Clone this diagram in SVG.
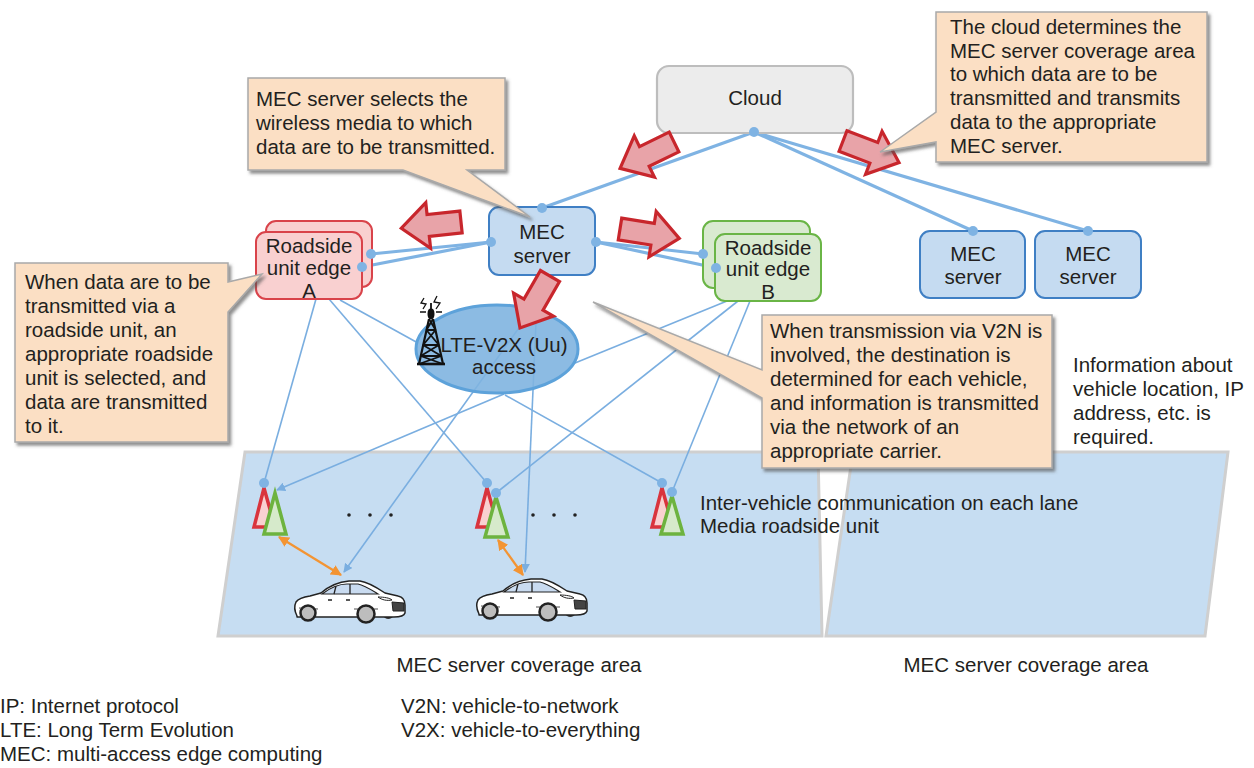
<svg xmlns="http://www.w3.org/2000/svg" width="1254" height="768" viewBox="0 0 1254 768">
  <style>
    text { font-family: 'Liberation Sans', Arial, sans-serif; font-size: 20.5px; fill: #231f20; }
    .mid { text-anchor: middle; }
    .area { fill: #c6ddf2; stroke: #cfcfcf; stroke-width: 3; }
    .thick { stroke: #7fb3e3; stroke-width: 3.2; fill: none; }
    .thin { stroke: #7aaee0; stroke-width: 1.6; fill: none; }
    .dot { fill: #7fb3e3; }
    .mec { fill: #c5dbf1; stroke: #3f7fc4; stroke-width: 2; }
    .rsuA { fill: #f9d0d0; stroke: #d9434a; stroke-width: 2; }
    .rsuB { fill: #d9ead0; stroke: #6ab546; stroke-width: 2; }
    .bigarrow { fill: #e8a3a8; stroke: #c8262c; stroke-width: 3.2; stroke-linejoin: miter; }
    .callout { fill: #fbdfc4; stroke: #a9a9a9; stroke-width: 1.5; filter: url(#shadow); }
    .triR { fill: #f9d1d1; stroke: #d9343d; stroke-width: 3.5; stroke-linejoin: miter; }
    .triG { fill: #d6eacb; stroke: #6db33f; stroke-width: 3.5; stroke-linejoin: miter; }
    .orange { stroke: #f39433; stroke-width: 2.2; fill: none; }
    .tower { stroke: #111; stroke-width: 1.8; fill: none; }
  </style>
  <defs>
    <filter id="shadow" x="-10%" y="-10%" width="130%" height="130%">
      <feDropShadow dx="2.5" dy="3" stdDeviation="1.8" flood-color="#555" flood-opacity="0.65"/>
    </filter>
    <marker id="blueHead" viewBox="0 0 10 10" refX="9" refY="5" markerWidth="9" markerHeight="9" markerUnits="userSpaceOnUse" orient="auto">
      <path d="M0,0 L10,5 L0,10 Z" fill="#7aaee0"/>
    </marker>
    <marker id="orangeHead" viewBox="0 0 10 10" refX="9" refY="5" markerWidth="11" markerHeight="11" markerUnits="userSpaceOnUse" orient="auto-start-reverse">
      <path d="M0,0 L10,5 L0,10 Z" fill="#f39433"/>
    </marker>
    <!-- block arrow pointing along +x, tail centred at the origin -->
    <path id="blockArrow" d="M0,-11 L33,-11 L33,-23 L60,0 L33,23 L33,11 L0,11 Z"/>
    <!-- white sedan -->
    <g id="car">
      <path d="M88,35 Q94,43 101,35 Z" fill="#333"/>
      <path d="M3,36 C1,32 0,26 2,22 C4,19 9,17 16,16 L27,13 C35,6 43,2 55,1 L66,1 C74,2 82,7 91,13 L104,16 C109,17 111,20 111,25 L111,33 C110,36 106,37 100,37 L3,37 Z" fill="#fff" stroke="#222" stroke-width="1.5" stroke-linejoin="round"/>
      <path d="M28,14 C36,8 44,4 53,4 L64,4 C70,5 76,9 84,14 Z" fill="#c9dbf0" stroke="#222" stroke-width="1.2"/>
      <path d="M42,6 L40,14 M56,4 L56,14" stroke="#222" stroke-width="1.3"/>
      <path d="M34,20 L38,20 M52,20 L56,20" stroke="#222" stroke-width="1.5"/>
      <path d="M84,17 C90,17 96,18 98,20 C93,21 88,20 84,17 Z" fill="#fff" stroke="#222" stroke-width="1"/>
      <path d="M98,22 L110,23 L110,31 L99,31 Z" fill="#444" stroke="#222" stroke-width="1"/>
      <path d="M5,28 L24,29 M60,29 L84,29" stroke="#222" stroke-width="0.8"/>
      <circle cx="14" cy="33" r="7.5" fill="#bdbdbd" stroke="#222" stroke-width="2.5"/>
      <circle cx="72" cy="34" r="8.5" fill="#bdbdbd" stroke="#222" stroke-width="2.5"/>
    </g>
  </defs>

  <rect width="1254" height="768" fill="#fff"/>

  <!-- coverage areas -->
  <g id="coverage-areas">
    <polygon class="area" points="245,452 818,452 822,636 218,636"/>
    <polygon class="area" points="853,452 1228,452 1205,636 826,636"/>
  </g>

  <!-- connectors -->
  <g id="connectors">
    <!-- cloud to MEC servers -->
    <line class="thick" x1="754" y1="132" x2="542" y2="208"/>
    <line class="thick" x1="754" y1="132" x2="973" y2="231"/>
    <line class="thick" x1="754" y1="132" x2="1088" y2="231"/>
    <!-- MEC server to roadside unit edges -->
    <line class="thick" x1="491" y1="242" x2="371" y2="254"/>
    <line class="thick" x1="491" y1="242" x2="362" y2="267"/>
    <line class="thick" x1="596" y1="242" x2="703" y2="254"/>
    <line class="thick" x1="596" y1="242" x2="716" y2="268"/>
    <!-- roadside unit edge A -->
    <line class="thin" x1="316" y1="299" x2="264" y2="483"/>
    <line class="thin" x1="329" y1="299" x2="487" y2="483"/>
    <line class="thin" x1="340" y1="300" x2="418" y2="343"/>
    <!-- roadside unit edge B -->
    <line class="thin" x1="727" y1="301" x2="575" y2="363"/>
    <line class="thin" x1="738" y1="301" x2="496" y2="493"/>
    <line class="thin" x1="750" y1="301" x2="672" y2="492"/>
    <!-- LTE-V2X access -->
    <line class="thin" x1="504" y1="394" x2="277" y2="490" marker-end="url(#blueHead)"/>
    <line class="thin" x1="521" y1="325" x2="344" y2="572" marker-end="url(#blueHead)"/>
    <line class="thin" x1="536" y1="322" x2="525" y2="572" marker-end="url(#blueHead)"/>
    <line class="thin" x1="505" y1="395" x2="662" y2="483"/>
    <!-- roadside unit to vehicle links -->
    <line class="orange" x1="279" y1="537" x2="341" y2="575" marker-start="url(#orangeHead)" marker-end="url(#orangeHead)"/>
    <line class="orange" x1="498" y1="540" x2="523" y2="575" marker-start="url(#orangeHead)" marker-end="url(#orangeHead)"/>
  </g>

  <!-- LTE-V2X (Uu) access -->
  <g id="lte-access">
    <ellipse cx="497" cy="349" rx="81" ry="44" fill="#7fb4e0" fill-opacity="0.9" stroke="#5da2da" stroke-width="3"/>
    <text class="mid" x="504" y="352">LTE-V2X (Uu)</text>
    <text class="mid" x="504" y="374">access</text>
    <g class="tower">
      <path d="M417,364 H445" stroke-width="2.6"/>
      <path d="M419,364 L429,319 M443,364 L433,319" stroke-width="2.2"/>
      <path d="M426.4,330 H435.6 M423.1,345 H438.9 M420.7,356 H441.3"/>
      <path d="M429,319 L435.6,330 M433,319 L426.4,330 M426.4,330 L438.9,345 M435.6,330 L423.1,345 M423.1,345 L441.3,356 M438.9,345 L420.7,356 M420.7,356 L443,364 M441.3,356 L419,364"/>
      <ellipse cx="431" cy="314" rx="2.6" ry="4.5" fill="#111"/>
      <path d="M431,309 V303"/>
      <path d="M420,312 H426 M436,312 H442" stroke-width="1.5"/>
      <path d="M424,298 L421,303 L426,304 L423,309" stroke-width="1.3"/>
      <path d="M437,296 L434,302 L440,303 L436,309" stroke-width="1.3"/>
    </g>
  </g>

  <!-- cloud -->
  <g id="cloud">
    <rect x="657" y="66" width="196" height="67" rx="12" fill="#ececec" stroke="#bdbdbd" stroke-width="2.2"/>
    <text class="mid" x="755" y="105">Cloud</text>
    <circle class="dot" cx="754" cy="132" r="5"/>
  </g>

  <!-- MEC servers -->
  <g id="mec-server-main">
    <rect class="mec" x="489" y="207" width="106" height="68" rx="10"/>
    <text class="mid" x="542" y="239">MEC</text>
    <text class="mid" x="542" y="263">server</text>
    <circle class="dot" cx="542" cy="208" r="5"/>
    <circle class="dot" cx="491" cy="242" r="5"/>
    <circle class="dot" cx="596" cy="242" r="5"/>
  </g>
  <g id="mec-server-2">
    <rect class="mec" x="920" y="231" width="105" height="67" rx="10"/>
    <text class="mid" x="973" y="261">MEC</text>
    <text class="mid" x="973" y="284">server</text>
    <circle class="dot" cx="973" cy="231" r="5"/>
  </g>
  <g id="mec-server-3">
    <rect class="mec" x="1035" y="231" width="106" height="67" rx="10"/>
    <text class="mid" x="1088" y="261">MEC</text>
    <text class="mid" x="1088" y="284">server</text>
    <circle class="dot" cx="1088" cy="231" r="5"/>
  </g>

  <!-- roadside unit edges -->
  <g id="rsu-edge-a">
    <rect class="rsuA" x="266" y="221" width="106" height="66" rx="10"/>
    <rect class="rsuA" x="256" y="232" width="106" height="67" rx="10"/>
    <text class="mid" x="309" y="253">Roadside</text>
    <text class="mid" x="309" y="275">unit edge</text>
    <text class="mid" x="309" y="298">A</text>
    <circle class="dot" cx="371" cy="254" r="5"/>
    <circle class="dot" cx="362" cy="267" r="5"/>
  </g>
  <g id="rsu-edge-b">
    <rect class="rsuB" x="703" y="221" width="107" height="67" rx="10"/>
    <rect class="rsuB" x="715" y="234" width="106" height="67" rx="10"/>
    <text class="mid" x="768" y="255">Roadside</text>
    <text class="mid" x="768" y="276">unit edge</text>
    <text class="mid" x="768" y="299">B</text>
    <circle class="dot" cx="703" cy="254" r="5"/>
    <circle class="dot" cx="716" cy="268" r="5"/>
  </g>

  <!-- roadside units on the lanes -->
  <g id="rsu-group-1">
    <polygon class="triR" points="264,488 254,527 275,527"/>
    <polygon class="triG" points="275,493 264,534 286,534"/>
    <circle class="dot" cx="264" cy="483" r="5"/>
  </g>
  <g id="rsu-group-2">
    <polygon class="triR" points="487,488 477,527 498,527"/>
    <polygon class="triG" points="496,497 485,537 508,537"/>
    <circle class="dot" cx="487" cy="483" r="5"/>
    <circle class="dot" cx="496" cy="493" r="5"/>
  </g>
  <g id="rsu-group-3">
    <polygon class="triR" points="662,488 652,527 673,527"/>
    <polygon class="triG" points="672,496 661,534 683,534"/>
    <circle class="dot" cx="662" cy="483" r="5"/>
    <circle class="dot" cx="672" cy="492" r="5"/>
  </g>
  <g id="ellipses" fill="#222">
    <circle cx="349" cy="515" r="1.8"/><circle cx="370" cy="515" r="1.8"/><circle cx="391" cy="515" r="1.8"/>
    <circle cx="533" cy="515" r="1.8"/><circle cx="554" cy="515" r="1.8"/><circle cx="575" cy="515" r="1.8"/>
  </g>

  <!-- vehicles -->
  <g id="vehicle-1"><use href="#car" transform="translate(294,580)"/></g>
  <g id="vehicle-2"><use href="#car" transform="translate(476,578)"/></g>

  <!-- data flow arrows -->
  <g id="flow-arrows">
    <use href="#blockArrow" class="bigarrow" transform="translate(674,142) rotate(154)"/>
    <use href="#blockArrow" class="bigarrow" transform="translate(843,141) rotate(21)"/>
    <use href="#blockArrow" class="bigarrow" transform="translate(461,222) rotate(174)"/>
    <use href="#blockArrow" class="bigarrow" transform="translate(620,229) rotate(9)"/>
    <use href="#blockArrow" class="bigarrow" transform="translate(550,276) rotate(120)"/>
  </g>

  <!-- callouts -->
  <g id="callout-mec">
    <path class="callout" d="M248,78 H505 V170 H467 L530,217 L403,170 H248 Z"/>
    <text x="256" y="106">MEC server selects the</text>
    <text x="256" y="130">wireless media to which</text>
    <text x="256" y="154">data are to be transmitted.</text>
  </g>
  <g id="callout-cloud">
    <path class="callout" d="M936,12 H1207 V162 H936 V142 L880,152 L936,112 Z"/>
    <text x="950" y="34">The cloud determines the</text>
    <text x="950" y="58">MEC server coverage area</text>
    <text x="950" y="81">to which data are to be</text>
    <text x="950" y="105">transmitted and transmits</text>
    <text x="950" y="129">data to the appropriate</text>
    <text x="950" y="153">MEC server.</text>
  </g>
  <g id="callout-rsu">
    <path class="callout" d="M15,263 H228 V282 L262,274 L228,312 V442 H15 Z"/>
    <text x="25" y="289">When data are to be</text>
    <text x="25" y="313">transmitted via a</text>
    <text x="25" y="337">roadside unit, an</text>
    <text x="25" y="361">appropriate roadside</text>
    <text x="25" y="385">unit is selected, and</text>
    <text x="25" y="409">data are transmitted</text>
    <text x="25" y="433">to it.</text>
  </g>
  <g id="callout-v2n">
    <path class="callout" d="M762,315 H1052 V468 H762 V398 L593,302 L762,370 Z"/>
    <text x="770" y="338">When transmission via V2N is</text>
    <text x="770" y="362">involved, the destination is</text>
    <text x="770" y="386">determined for each vehicle,</text>
    <text x="770" y="410">and information is transmitted</text>
    <text x="770" y="434">via the network of an</text>
    <text x="770" y="458">appropriate carrier.</text>
  </g>

  <!-- free labels -->
  <g id="labels">
    <text x="1073" y="372">Information about</text>
    <text x="1073" y="396">vehicle location, IP</text>
    <text x="1073" y="420">address, etc. is</text>
    <text x="1073" y="444">required.</text>
    <text x="700" y="510">Inter-vehicle communication on each lane</text>
    <text x="700" y="533">Media roadside unit</text>
    <text class="mid" x="519" y="672">MEC server coverage area</text>
    <text class="mid" x="1026" y="672">MEC server coverage area</text>
  </g>

  <!-- abbreviations -->
  <g id="legend">
    <text x="0" y="713">IP: Internet protocol</text>
    <text x="0" y="737">LTE: Long Term Evolution</text>
    <text x="0" y="761">MEC: multi-access edge computing</text>
    <text x="401" y="713">V2N: vehicle-to-network</text>
    <text x="401" y="737">V2X: vehicle-to-everything</text>
  </g>
</svg>
